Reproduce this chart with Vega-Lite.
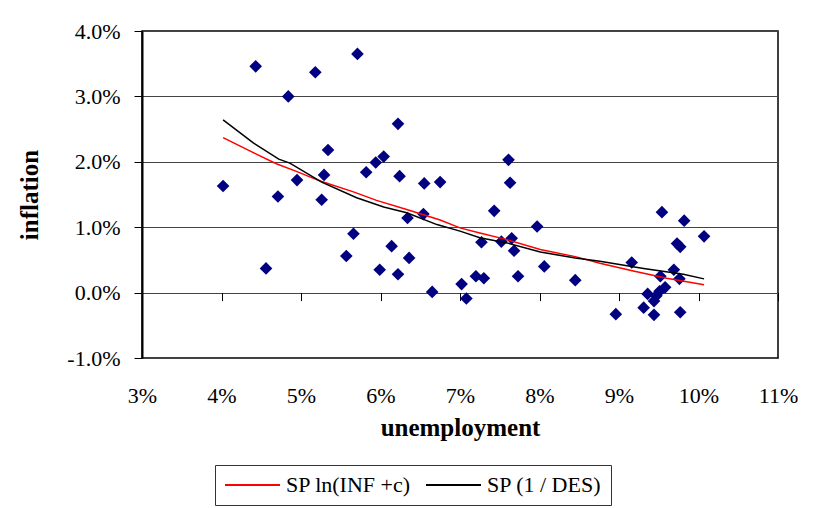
{
  "$schema": "https://vega.github.io/schema/vega-lite/v6.json",
  "width": 636,
  "height": 327,
  "autosize": {"type": "none"},
  "padding": {"left": 142, "top": 31, "right": 40, "bottom": 150},
  "background": "white",
  "config": {
    "view": {"stroke": "black", "strokeWidth": 1.5},
    "axis": {
      "labelFont": "Liberation Serif",
      "labelFontSize": 22,
      "labelColor": "black",
      "titleFont": "Liberation Serif",
      "titleFontSize": 25,
      "titleFontWeight": "bold",
      "titleColor": "black"
    }
  },
  "datasets": {
    "points": [
      {"unemployment": 4.02, "inflation": 1.63},
      {"unemployment": 4.43, "inflation": 3.46},
      {"unemployment": 4.56, "inflation": 0.37},
      {"unemployment": 4.71, "inflation": 1.47},
      {"unemployment": 4.84, "inflation": 3.00},
      {"unemployment": 4.95, "inflation": 1.72},
      {"unemployment": 5.18, "inflation": 3.37},
      {"unemployment": 5.26, "inflation": 1.42},
      {"unemployment": 5.29, "inflation": 1.80},
      {"unemployment": 5.34, "inflation": 2.18},
      {"unemployment": 5.57, "inflation": 0.56},
      {"unemployment": 5.66, "inflation": 0.90},
      {"unemployment": 5.71, "inflation": 3.65},
      {"unemployment": 5.82, "inflation": 1.84},
      {"unemployment": 5.94, "inflation": 1.99},
      {"unemployment": 5.99, "inflation": 0.35},
      {"unemployment": 6.04, "inflation": 2.08},
      {"unemployment": 6.14, "inflation": 0.71},
      {"unemployment": 6.22, "inflation": 2.58},
      {"unemployment": 6.22, "inflation": 0.28},
      {"unemployment": 6.24, "inflation": 1.78},
      {"unemployment": 6.34, "inflation": 1.14},
      {"unemployment": 6.36, "inflation": 0.53},
      {"unemployment": 6.54, "inflation": 1.20},
      {"unemployment": 6.55, "inflation": 1.67},
      {"unemployment": 6.65, "inflation": 0.01},
      {"unemployment": 6.75, "inflation": 1.69},
      {"unemployment": 7.02, "inflation": 0.13},
      {"unemployment": 7.08, "inflation": -0.09},
      {"unemployment": 7.20, "inflation": 0.25},
      {"unemployment": 7.30, "inflation": 0.22},
      {"unemployment": 7.27, "inflation": 0.77},
      {"unemployment": 7.43, "inflation": 1.25},
      {"unemployment": 7.52, "inflation": 0.78},
      {"unemployment": 7.61, "inflation": 2.03},
      {"unemployment": 7.63, "inflation": 1.68},
      {"unemployment": 7.65, "inflation": 0.83},
      {"unemployment": 7.68, "inflation": 0.64},
      {"unemployment": 7.73, "inflation": 0.25},
      {"unemployment": 7.97, "inflation": 1.01},
      {"unemployment": 8.06, "inflation": 0.40},
      {"unemployment": 8.45, "inflation": 0.19},
      {"unemployment": 8.96, "inflation": -0.33},
      {"unemployment": 9.16, "inflation": 0.46},
      {"unemployment": 9.31, "inflation": -0.23},
      {"unemployment": 9.36, "inflation": -0.02},
      {"unemployment": 9.44, "inflation": -0.13},
      {"unemployment": 9.44, "inflation": -0.34},
      {"unemployment": 9.47, "inflation": -0.05},
      {"unemployment": 9.51, "inflation": 0.02},
      {"unemployment": 9.52, "inflation": 0.25},
      {"unemployment": 9.54, "inflation": 1.23},
      {"unemployment": 9.58, "inflation": 0.08},
      {"unemployment": 9.69, "inflation": 0.35},
      {"unemployment": 9.73, "inflation": 0.75},
      {"unemployment": 9.77, "inflation": 0.70},
      {"unemployment": 9.76, "inflation": 0.21},
      {"unemployment": 9.77, "inflation": -0.30},
      {"unemployment": 9.82, "inflation": 1.10},
      {"unemployment": 10.07, "inflation": 0.86}
    ],
    "curves": [
      {"series": "SP ln(INF +c)", "unemployment": 4.02, "inflation": 2.37},
      {"series": "SP ln(INF +c)", "unemployment": 4.40, "inflation": 2.14},
      {"series": "SP ln(INF +c)", "unemployment": 4.69, "inflation": 1.97},
      {"series": "SP ln(INF +c)", "unemployment": 4.95, "inflation": 1.85},
      {"series": "SP ln(INF +c)", "unemployment": 5.11, "inflation": 1.77},
      {"series": "SP ln(INF +c)", "unemployment": 5.26, "inflation": 1.70},
      {"series": "SP ln(INF +c)", "unemployment": 5.66, "inflation": 1.54},
      {"series": "SP ln(INF +c)", "unemployment": 5.95, "inflation": 1.41},
      {"series": "SP ln(INF +c)", "unemployment": 6.33, "inflation": 1.27},
      {"series": "SP ln(INF +c)", "unemployment": 6.75, "inflation": 1.11},
      {"series": "SP ln(INF +c)", "unemployment": 7.00, "inflation": 0.99},
      {"series": "SP ln(INF +c)", "unemployment": 7.25, "inflation": 0.91},
      {"series": "SP ln(INF +c)", "unemployment": 7.59, "inflation": 0.81},
      {"series": "SP ln(INF +c)", "unemployment": 8.01, "inflation": 0.66},
      {"series": "SP ln(INF +c)", "unemployment": 8.45, "inflation": 0.55},
      {"series": "SP ln(INF +c)", "unemployment": 8.76, "inflation": 0.45},
      {"series": "SP ln(INF +c)", "unemployment": 9.18, "inflation": 0.33},
      {"series": "SP ln(INF +c)", "unemployment": 9.60, "inflation": 0.22},
      {"series": "SP ln(INF +c)", "unemployment": 10.07, "inflation": 0.12},
      {"series": "SP (1 / DES)", "unemployment": 4.02, "inflation": 2.64},
      {"series": "SP (1 / DES)", "unemployment": 4.40, "inflation": 2.29},
      {"series": "SP (1 / DES)", "unemployment": 4.72, "inflation": 2.04},
      {"series": "SP (1 / DES)", "unemployment": 4.86, "inflation": 1.98},
      {"series": "SP (1 / DES)", "unemployment": 5.26, "inflation": 1.69},
      {"series": "SP (1 / DES)", "unemployment": 5.70, "inflation": 1.45},
      {"series": "SP (1 / DES)", "unemployment": 6.04, "inflation": 1.31},
      {"series": "SP (1 / DES)", "unemployment": 6.33, "inflation": 1.22},
      {"series": "SP (1 / DES)", "unemployment": 6.71, "inflation": 1.04},
      {"series": "SP (1 / DES)", "unemployment": 7.00, "inflation": 0.94},
      {"series": "SP (1 / DES)", "unemployment": 7.25, "inflation": 0.84},
      {"series": "SP (1 / DES)", "unemployment": 7.59, "inflation": 0.76},
      {"series": "SP (1 / DES)", "unemployment": 8.01, "inflation": 0.62},
      {"series": "SP (1 / DES)", "unemployment": 8.45, "inflation": 0.53},
      {"series": "SP (1 / DES)", "unemployment": 8.76, "inflation": 0.48},
      {"series": "SP (1 / DES)", "unemployment": 9.31, "inflation": 0.37},
      {"series": "SP (1 / DES)", "unemployment": 9.81, "inflation": 0.28},
      {"series": "SP (1 / DES)", "unemployment": 10.07, "inflation": 0.21}
    ]
  },
  "layer": [
    {
      "data": {"name": "points"},
      "mark": {"type": "point", "shape": "diamond", "filled": true, "color": "#000080", "opacity": 1, "size": 160},
      "encoding": {
        "x": {
          "field": "unemployment", "type": "quantitative",
          "scale": {"domain": [3, 11], "nice": false, "zero": false},
          "axis": {
            "orient": "bottom",
            "title": "unemployment",
            "values": [3, 4, 5, 6, 7, 8, 9, 10, 11],
            "labelExpr": "format(datum.value, 'd') + '%'",
            "ticks": false, "tickSize": 0, "domain": false, "grid": false,
            "labelPadding": 27, "titlePadding": 9, "labelFlush": false
          }
        },
        "y": {
          "field": "inflation", "type": "quantitative",
          "scale": {"domain": [-1, 4], "nice": false, "zero": false},
          "axis": {
            "title": "inflation",
            "values": [-1, 0, 1, 2, 3, 4],
            "labelExpr": "(datum.value < 0 ? '-' : '') + format(abs(datum.value), '.1f') + '%'",
            "grid": true, "gridColor": "#444444", "gridWidth": 1,
            "ticks": true, "tickSize": 8, "tickColor": "black",
            "domain": true, "domainColor": "black", "domainWidth": 2,
            "labelPadding": 14, "titlePadding": 24, "labelFlush": false
          }
        }
      }
    },
    {
      "data": {"name": "curves"},
      "mark": {"type": "line", "strokeWidth": 1.5},
      "encoding": {
        "x": {
          "field": "unemployment", "type": "quantitative",
          "axis": {
            "orient": "bottom", "offset": -65.4,
            "values": [3, 4, 5, 6, 7, 8, 9, 10, 11],
            "labels": false, "title": null, "grid": false, "domain": false,
            "ticks": true, "tickSize": 8, "tickColor": "black", "tickWidth": 1
          }
        },
        "y": {"field": "inflation", "type": "quantitative"},
        "color": {
          "field": "series", "type": "nominal",
          "scale": {"domain": ["SP ln(INF +c)", "SP (1 / DES)"], "range": ["#ff0000", "#000000"]},
          "legend": {
            "orient": "none", "legendX": 73, "legendY": 434,
            "direction": "horizontal", "title": null,
            "strokeColor": "#333333", "fillColor": "white", "padding": 9,
            "symbolType": "M-1,0L4.5,0", "symbolSize": 400, "symbolStrokeWidth": 2,
            "labelFont": "Liberation Serif", "labelFontSize": 22, "labelColor": "black",
            "labelOffset": 40, "columnPadding": 11, "labelLimit": 300
          }
        },
        "order": {"field": "unemployment", "type": "quantitative"}
      }
    }
  ],
  "resolve": {"scale": {"x": "shared", "y": "shared"}, "axis": {"x": "independent"}}
}
